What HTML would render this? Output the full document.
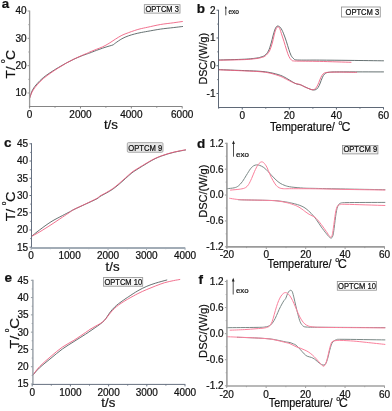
<!DOCTYPE html>
<html>
<head>
<meta charset="utf-8">
<title>Figure</title>
<style>
html,body{margin:0;padding:0;background:#ffffff;}
body{width:392px;height:411px;overflow:hidden;font-family:"Liberation Sans",sans-serif;}
svg{display:block;will-change:transform;}
svg text{font-family:"Liberation Sans",sans-serif;stroke:#111;stroke-width:0.22px;}
</style>
</head>
<body>
<svg width="392" height="411" viewBox="0 0 392 411">
<rect x="0" y="0" width="392" height="411" fill="#ffffff"/>
<path d="M29.60,98.20 C30.10,96.80 31.33,92.23 32.60,89.80 C33.87,87.37 35.42,85.63 37.20,83.60 C38.98,81.57 41.00,79.52 43.30,77.60 C45.60,75.68 48.45,73.80 51.00,72.10 C53.55,70.40 56.05,68.92 58.60,67.40 C61.15,65.88 63.75,64.37 66.30,63.00 C68.85,61.63 71.35,60.38 73.90,59.20 C76.45,58.02 79.30,56.82 81.60,55.90 C83.90,54.98 86.30,54.20 87.70,53.70 C89.10,53.20 88.55,53.45 90.00,52.90 C91.45,52.35 94.28,51.20 96.40,50.40 C98.53,49.60 100.63,48.82 102.75,48.10 C104.87,47.38 107.39,46.63 109.10,46.10 C110.81,45.57 111.93,45.42 113.00,44.90 C114.07,44.38 114.02,44.02 115.50,43.00 C116.98,41.98 119.77,39.93 121.90,38.75 C124.03,37.57 126.18,36.69 128.30,35.90 C130.42,35.11 132.65,34.52 134.60,34.00 C136.55,33.48 137.80,33.20 140.00,32.75 C142.20,32.30 144.38,31.91 147.80,31.30 C151.22,30.69 156.25,29.72 160.50,29.10 C164.75,28.48 169.62,28.03 173.30,27.60 C176.98,27.17 181.05,26.68 182.60,26.50" fill="none" stroke="#4a5759" stroke-width="0.85" stroke-opacity="1.0" stroke-linecap="round" stroke-linejoin="round"/>
<path d="M29.60,98.20 C30.10,97.00 31.33,93.23 32.60,91.00 C33.87,88.77 35.42,86.87 37.20,84.80 C38.98,82.73 41.00,80.60 43.30,78.60 C45.60,76.60 48.45,74.60 51.00,72.80 C53.55,71.00 56.05,69.42 58.60,67.80 C61.15,66.18 63.75,64.55 66.30,63.10 C68.85,61.65 71.35,60.35 73.90,59.10 C76.45,57.85 79.30,56.62 81.60,55.60 C83.90,54.58 86.30,53.62 87.70,53.00 C89.10,52.38 88.55,52.52 90.00,51.90 C91.45,51.28 94.28,50.15 96.40,49.30 C98.53,48.45 100.63,47.80 102.75,46.80 C104.87,45.80 106.97,44.58 109.10,43.30 C111.22,42.02 113.37,40.43 115.50,39.10 C117.63,37.77 119.77,36.36 121.90,35.30 C124.03,34.24 126.18,33.55 128.30,32.75 C130.42,31.95 132.65,31.14 134.60,30.50 C136.55,29.86 137.80,29.45 140.00,28.90 C142.20,28.35 144.38,27.93 147.80,27.20 C151.22,26.47 156.25,25.23 160.50,24.50 C164.75,23.77 169.65,23.30 173.30,22.80 C176.95,22.30 180.88,21.72 182.40,21.50" fill="none" stroke="#ee587b" stroke-width="0.85" stroke-opacity="1.0" stroke-linecap="round" stroke-linejoin="round"/>
<path d="M29.6,10.6 V107.00" fill="none" stroke="#9a9a9a" stroke-width="1.3"/>
<path d="M28.95,106.5 H182.4" fill="none" stroke="#858585" stroke-width="1.0"/>
<path d="M29.6,106.5 v2.0M80.47,106.5 v2.0M131.33,106.5 v2.0M182.2,106.5 v2.0M55.03,106.5 v1.2M105.9,106.5 v1.2M156.77,106.5 v1.2" fill="none" stroke="#858585" stroke-width="1"/>
<path d="M29.6,93.0 h-2.0M29.6,65.67 h-2.0M29.6,38.33 h-2.0M29.6,11.0 h-2.0M29.6,79.33 h-1.2M29.6,52.0 h-1.2M29.6,24.67 h-1.2" fill="none" stroke="#9a9a9a" stroke-width="1"/>
<text x="29.6" y="117.9" font-size="10" text-anchor="middle" font-weight="normal" fill="#111">0</text>
<text x="80.47" y="117.9" font-size="10" text-anchor="middle" font-weight="normal" fill="#111">2000</text>
<text x="131.33" y="117.9" font-size="10" text-anchor="middle" font-weight="normal" fill="#111">4000</text>
<text x="182.2" y="117.9" font-size="10" text-anchor="middle" font-weight="normal" fill="#111">6000</text>
<text x="26.5" y="96.4" font-size="10" text-anchor="end" font-weight="normal" fill="#111">10</text>
<text x="26.5" y="69.07" font-size="10" text-anchor="end" font-weight="normal" fill="#111">20</text>
<text x="26.5" y="41.73" font-size="10" text-anchor="end" font-weight="normal" fill="#111">30</text>
<text x="26.5" y="14.4" font-size="10" text-anchor="end" font-weight="normal" fill="#111">40</text>
<text x="1.8" y="7.9" font-size="13.3" text-anchor="start" font-weight="bold" fill="#111">a</text>
<g transform="translate(14.6,78.4) rotate(-90)"><text font-size="13" fill="#111"><tspan x="0" textLength="12.00" lengthAdjust="spacingAndGlyphs">T/</tspan><tspan x="15.30" dy="-9.5" font-size="6.6">o</tspan><tspan x="18.50" dy="9.5" textLength="10.05" lengthAdjust="spacingAndGlyphs">C</tspan></text></g>
<text x="103.9" y="128.8" font-size="13" fill="#111" textLength="14.0" lengthAdjust="spacingAndGlyphs">t/s</text>
<rect x="144.3" y="4.7" width="35.70" height="8.40" rx="0" fill="#fbfbfb" stroke="#8c8c8c" stroke-width="0.8"/>
<text x="145.4" y="11.8" font-size="8.2" fill="#111" textLength="33.5" lengthAdjust="spacingAndGlyphs">OPTCM 3</text>
<path d="M218.70,60.00 C223.02,59.87 238.23,59.53 244.60,59.20 C250.97,58.87 254.17,58.37 256.90,58.00 C259.63,57.63 259.72,57.42 261.00,57.00 C262.28,56.58 263.37,56.50 264.60,55.50 C265.83,54.50 267.30,53.08 268.40,51.00 C269.50,48.92 270.43,45.52 271.20,43.00 C271.97,40.48 272.42,38.05 273.00,35.90 C273.58,33.75 274.15,31.60 274.70,30.10 C275.25,28.60 275.77,27.58 276.30,26.90 C276.83,26.22 277.18,25.85 277.90,26.00 C278.62,26.15 279.68,26.60 280.60,27.80 C281.52,29.00 282.45,30.97 283.40,33.20 C284.35,35.43 285.40,38.52 286.30,41.20 C287.20,43.88 288.00,46.92 288.80,49.30 C289.60,51.68 290.28,53.93 291.10,55.50 C291.93,57.07 292.72,57.95 293.75,58.70 C294.78,59.45 293.75,59.77 297.30,60.00 C301.61,60.23 310.82,60.03 319.60,60.10 C328.38,60.17 339.35,60.28 350.00,60.40 C360.65,60.52 377.92,60.73 383.50,60.80" fill="none" stroke="#4a5759" stroke-width="0.85" stroke-opacity="1.0" stroke-linecap="round" stroke-linejoin="round"/>
<path d="M218.70,60.20 C223.02,60.10 238.23,59.88 244.60,59.60 C250.97,59.32 254.08,58.85 256.90,58.50 C259.72,58.15 260.12,57.92 261.50,57.50 C262.88,57.08 263.87,57.08 265.20,56.00 C266.53,54.92 268.32,53.17 269.50,51.00 C270.68,48.83 271.55,45.52 272.30,43.00 C273.05,40.48 273.45,38.05 274.00,35.90 C274.55,33.75 275.08,31.53 275.60,30.10 C276.12,28.67 276.67,27.85 277.10,27.30 C277.53,26.75 277.78,26.65 278.20,26.80 C278.62,26.95 279.09,27.13 279.60,28.20 C280.11,29.27 280.53,31.03 281.25,33.20 C281.97,35.37 283.01,38.38 283.90,41.20 C284.79,44.02 285.77,47.57 286.60,50.10 C287.43,52.63 288.10,54.75 288.90,56.40 C289.70,58.05 290.45,59.23 291.40,60.00 C292.35,60.77 291.40,60.77 294.60,61.00 C299.30,61.23 310.20,61.18 319.60,61.40 C329.00,61.62 345.77,62.15 351.00,62.30" fill="none" stroke="#ee587b" stroke-width="0.85" stroke-opacity="1.0" stroke-linecap="round" stroke-linejoin="round"/>
<path d="M218.70,69.60 C223.02,69.77 237.72,70.32 244.60,70.60 C251.48,70.88 255.73,70.97 260.00,71.30 C264.27,71.63 266.80,71.93 270.20,72.60 C273.60,73.27 277.68,74.35 280.40,75.30 C283.12,76.25 284.45,77.18 286.50,78.30 C288.55,79.42 291.00,81.05 292.70,82.00 C294.40,82.95 295.35,83.52 296.70,84.00 C298.05,84.48 299.43,84.42 300.80,84.90 C302.17,85.38 303.37,86.20 304.90,86.90 C306.43,87.60 308.57,88.58 310.00,89.10 C311.43,89.62 312.38,90.00 313.50,90.00 C314.62,90.00 315.75,89.85 316.70,89.10 C317.65,88.35 318.45,86.95 319.20,85.50 C319.95,84.05 320.52,82.05 321.20,80.40 C321.88,78.75 322.55,76.80 323.30,75.60 C324.05,74.40 324.68,73.77 325.70,73.20 C326.72,72.63 327.08,72.42 329.40,72.20 C331.72,71.98 330.58,71.95 339.60,71.90 C348.62,71.85 376.18,71.90 383.50,71.90" fill="none" stroke="#4a5759" stroke-width="0.85" stroke-opacity="1.0" stroke-linecap="round" stroke-linejoin="round"/>
<path d="M218.70,69.80 C223.02,69.98 237.72,70.58 244.60,70.90 C251.48,71.22 255.73,71.32 260.00,71.70 C264.27,72.08 266.80,72.43 270.20,73.20 C273.60,73.97 277.68,75.28 280.40,76.30 C283.12,77.32 284.45,78.28 286.50,79.30 C288.55,80.32 291.17,81.68 292.70,82.40 C294.23,83.12 294.52,83.27 295.70,83.60 C296.88,83.93 298.43,83.92 299.80,84.40 C301.17,84.88 302.37,85.78 303.90,86.50 C305.43,87.22 307.53,88.15 309.00,88.70 C310.47,89.25 311.62,89.83 312.70,89.80 C313.78,89.77 314.65,89.32 315.50,88.50 C316.35,87.68 317.08,86.32 317.80,84.90 C318.52,83.48 319.13,81.55 319.80,80.00 C320.47,78.45 321.05,76.75 321.80,75.60 C322.55,74.45 323.20,73.65 324.30,73.10 C325.40,72.55 325.85,72.47 328.40,72.30 C330.95,72.13 334.92,72.08 339.60,72.10 C344.28,72.12 353.68,72.35 356.50,72.40" fill="none" stroke="#ee587b" stroke-width="0.85" stroke-opacity="1.0" stroke-linecap="round" stroke-linejoin="round"/>
<path d="M218.5,9.8 V108.00" fill="none" stroke="#5f6977" stroke-width="1.0"/>
<path d="M218.00,107.5 H383.8" fill="none" stroke="#5f6977" stroke-width="1.0"/>
<path d="M242.25,107.5 v2.0M289.33,107.5 v2.0M336.42,107.5 v2.0M383.5,107.5 v2.0M218.71,107.5 v1.2M265.79,107.5 v1.2M312.88,107.5 v1.2M359.96,107.5 v1.2" fill="none" stroke="#5f6977" stroke-width="1"/>
<path d="M218.5,93.5 h-2.0M218.5,65.73 h-2.0M218.5,37.97 h-2.0M218.5,10.2 h-2.0M218.5,79.62 h-1.2M218.5,51.85 h-1.2M218.5,24.08 h-1.2" fill="none" stroke="#5f6977" stroke-width="1"/>
<text x="242.25" y="118.9" font-size="10" text-anchor="middle" font-weight="normal" fill="#111">0</text>
<text x="289.33" y="118.9" font-size="10" text-anchor="middle" font-weight="normal" fill="#111">20</text>
<text x="336.42" y="118.9" font-size="10" text-anchor="middle" font-weight="normal" fill="#111">40</text>
<text x="383.5" y="118.9" font-size="10" text-anchor="middle" font-weight="normal" fill="#111">60</text>
<text x="215.5" y="96.9" font-size="10" text-anchor="end" font-weight="normal" fill="#111">-1</text>
<text x="215.5" y="69.13" font-size="10" text-anchor="end" font-weight="normal" fill="#111">0</text>
<text x="215.5" y="41.37" font-size="10" text-anchor="end" font-weight="normal" fill="#111">1</text>
<text x="215.5" y="13.6" font-size="10" text-anchor="end" font-weight="normal" fill="#111">2</text>
<text x="196.8" y="13.0" font-size="13.5" text-anchor="start" font-weight="bold" fill="#111">b</text>
<text transform="translate(206.6,84.5) rotate(-90)" font-size="11.4" fill="#111" textLength="51.5" lengthAdjust="spacingAndGlyphs">DSC/(W/g)</text>
<text y="131.3" font-size="12.5" fill="#111"><tspan x="270.0" textLength="64.90" lengthAdjust="spacingAndGlyphs">Temperature/</tspan><tspan x="338.55" dy="-6.0" font-size="7">o</tspan><tspan x="341.49" dy="6.0" textLength="8.92" lengthAdjust="spacingAndGlyphs">C</tspan></text>
<rect x="341.5" y="7" width="38.75" height="10.00" rx="0" fill="#ffffff" stroke="#8c8c8c" stroke-width="0.8"/>
<text x="345.5" y="15" font-size="8.2" fill="#111" textLength="33.7" lengthAdjust="spacingAndGlyphs">OPTCM 3</text>
<path d="M225.8,15.3 V7.2" stroke="#222" stroke-width="0.8" fill="none"/>
<path d="M224.9,8.4 L225.8,5.8 L226.70000000000002,8.4 Z" fill="#222"/>
<text x="228.4" y="14.3" font-size="6.6" text-anchor="start" font-weight="normal" fill="#111">exo</text>
<path d="M31.50,236.40 C32.83,235.33 36.25,232.43 39.50,230.00 C42.75,227.57 47.18,224.20 51.00,221.80 C54.82,219.40 59.35,217.23 62.40,215.60 C65.45,213.97 67.38,213.02 69.30,212.00 C71.22,210.98 71.22,210.80 73.90,209.50 C76.58,208.20 81.57,205.98 85.40,204.20 C89.23,202.42 94.47,200.08 96.90,198.80 C99.33,197.52 98.42,197.47 100.00,196.50 C101.58,195.53 104.28,194.22 106.40,193.00 C108.53,191.78 110.63,190.67 112.75,189.20 C114.87,187.73 116.97,185.98 119.10,184.20 C121.22,182.42 123.37,180.38 125.50,178.50 C127.63,176.62 130.15,174.30 131.90,172.90 C133.65,171.50 134.25,171.23 136.00,170.10 C137.75,168.97 140.28,167.42 142.40,166.10 C144.53,164.78 146.63,163.43 148.75,162.20 C150.87,160.97 152.97,159.73 155.10,158.70 C157.22,157.67 159.37,156.80 161.50,156.00 C163.63,155.20 165.77,154.53 167.90,153.90 C170.03,153.27 172.18,152.70 174.30,152.20 C176.42,151.70 178.73,151.27 180.60,150.90 C182.47,150.53 184.68,150.15 185.50,150.00" fill="none" stroke="#4a5759" stroke-width="0.85" stroke-opacity="1.0" stroke-linecap="round" stroke-linejoin="round"/>
<path d="M31.50,236.40 C32.83,235.67 36.25,233.93 39.50,232.00 C42.75,230.07 47.18,227.27 51.00,224.80 C54.82,222.33 59.35,219.23 62.40,217.20 C65.45,215.17 67.38,213.88 69.30,212.60 C71.22,211.32 71.22,210.93 73.90,209.50 C76.58,208.07 81.57,205.85 85.40,204.00 C89.23,202.15 94.47,199.73 96.90,198.40 C99.33,197.07 98.42,196.98 100.00,196.00 C101.58,195.02 104.28,193.73 106.40,192.50 C108.53,191.27 110.63,190.10 112.75,188.60 C114.87,187.10 116.97,185.30 119.10,183.50 C121.22,181.70 123.37,179.68 125.50,177.80 C127.63,175.92 130.15,173.58 131.90,172.20 C133.65,170.82 134.25,170.60 136.00,169.50 C137.75,168.40 140.28,166.88 142.40,165.60 C144.53,164.32 146.63,163.00 148.75,161.80 C150.87,160.60 152.97,159.40 155.10,158.40 C157.22,157.40 159.37,156.58 161.50,155.80 C163.63,155.02 165.77,154.33 167.90,153.70 C170.03,153.07 172.18,152.50 174.30,152.00 C176.42,151.50 178.73,151.07 180.60,150.70 C182.47,150.33 184.68,149.95 185.50,149.80" fill="none" stroke="#ee587b" stroke-width="0.85" stroke-opacity="1.0" stroke-linecap="round" stroke-linejoin="round"/>
<path d="M31.5,143.2 V248.90" fill="none" stroke="#667080" stroke-width="1.0"/>
<path d="M31.00,248.0 H185.3" fill="none" stroke="#a2acb6" stroke-width="1.8"/>
<path d="M31.1,248.0 v2.0M69.58,248.0 v2.0M108.05,248.0 v2.0M146.53,248.0 v2.0M185.0,248.0 v2.0M50.34,248.0 v1.2M88.81,248.0 v1.2M127.29,248.0 v1.2M165.76,248.0 v1.2" fill="none" stroke="#a2acb6" stroke-width="1"/>
<path d="M31.5,247.2 h-2.0M31.5,229.97 h-2.0M31.5,212.73 h-2.0M31.5,195.5 h-2.0M31.5,178.27 h-2.0M31.5,161.03 h-2.0M31.5,143.8 h-2.0M31.5,238.58 h-1.2M31.5,221.35 h-1.2M31.5,204.12 h-1.2M31.5,186.88 h-1.2M31.5,169.65 h-1.2M31.5,152.42 h-1.2" fill="none" stroke="#667080" stroke-width="1"/>
<text x="31.1" y="259.1" font-size="10" text-anchor="middle" font-weight="normal" fill="#111">0</text>
<text x="69.58" y="259.1" font-size="10" text-anchor="middle" font-weight="normal" fill="#111">1000</text>
<text x="108.05" y="259.1" font-size="10" text-anchor="middle" font-weight="normal" fill="#111">2000</text>
<text x="146.53" y="259.1" font-size="10" text-anchor="middle" font-weight="normal" fill="#111">3000</text>
<text x="185.0" y="259.1" font-size="10" text-anchor="middle" font-weight="normal" fill="#111">4000</text>
<text x="28.0" y="250.6" font-size="10" text-anchor="end" font-weight="normal" fill="#111">15</text>
<text x="28.0" y="233.37" font-size="10" text-anchor="end" font-weight="normal" fill="#111">20</text>
<text x="28.0" y="216.13" font-size="10" text-anchor="end" font-weight="normal" fill="#111">25</text>
<text x="28.0" y="198.9" font-size="10" text-anchor="end" font-weight="normal" fill="#111">30</text>
<text x="28.0" y="181.67" font-size="10" text-anchor="end" font-weight="normal" fill="#111">35</text>
<text x="28.0" y="164.43" font-size="10" text-anchor="end" font-weight="normal" fill="#111">40</text>
<text x="28.0" y="147.2" font-size="10" text-anchor="end" font-weight="normal" fill="#111">45</text>
<text x="3.9" y="147.3" font-size="13.5" text-anchor="start" font-weight="bold" fill="#111">c</text>
<g transform="translate(15.2,221.3) rotate(-90)"><text font-size="13" fill="#111"><tspan x="0" textLength="12.56" lengthAdjust="spacingAndGlyphs">T/</tspan><tspan x="16.02" dy="-9.5" font-size="6.6">o</tspan><tspan x="19.37" dy="9.5" textLength="10.52" lengthAdjust="spacingAndGlyphs">C</tspan></text></g>
<text x="105.6" y="270.6" font-size="13" fill="#111" textLength="14.0" lengthAdjust="spacingAndGlyphs">t/s</text>
<rect x="127.3" y="142.6" width="35.70" height="9.70" rx="1.2" fill="#e7e7e7" stroke="#9a9a9a" stroke-width="0.8"/>
<text x="128.3" y="150.5" font-size="8.2" fill="#111" textLength="34.0" lengthAdjust="spacingAndGlyphs">OPTCM 9</text>
<path d="M227.10,188.70 C228.28,188.55 232.33,188.25 234.20,187.80 C236.07,187.35 236.93,187.03 238.30,186.00 C239.67,184.97 241.05,183.40 242.40,181.60 C243.75,179.80 245.05,177.33 246.40,175.20 C247.75,173.07 249.30,170.37 250.50,168.80 C251.70,167.23 252.57,166.45 253.60,165.80 C254.63,165.15 255.68,164.97 256.70,164.90 C257.72,164.83 258.52,164.97 259.70,165.40 C260.88,165.83 262.43,166.52 263.80,167.50 C265.17,168.48 266.53,169.92 267.90,171.30 C269.27,172.68 270.65,174.37 272.00,175.80 C273.35,177.23 274.65,178.67 276.00,179.90 C277.35,181.13 278.57,182.25 280.10,183.20 C281.63,184.15 283.33,184.97 285.20,185.60 C287.07,186.23 288.23,186.58 291.30,187.00 C294.37,187.42 299.57,187.87 303.60,188.10 C307.63,188.33 307.77,188.23 315.50,188.40 C323.23,188.57 338.43,188.88 350.00,189.10 C361.57,189.32 379.08,189.60 384.90,189.70" fill="none" stroke="#7b8987" stroke-width="1.0" stroke-opacity="1.0" stroke-linecap="round" stroke-linejoin="round"/>
<path d="M230.50,190.10 C232.13,189.93 237.82,189.50 240.30,189.10 C242.78,188.70 244.03,188.45 245.40,187.70 C246.77,186.95 247.47,186.13 248.50,184.60 C249.53,183.07 250.58,180.72 251.60,178.50 C252.62,176.28 253.58,173.52 254.60,171.30 C255.62,169.08 256.75,166.68 257.70,165.20 C258.65,163.72 259.62,162.95 260.30,162.40 C260.98,161.85 261.22,161.83 261.80,161.90 C262.38,161.97 262.95,161.92 263.80,162.80 C264.65,163.68 265.88,165.27 266.90,167.20 C267.92,169.13 268.88,172.18 269.90,174.40 C270.92,176.62 271.98,178.70 273.00,180.50 C274.02,182.30 274.98,184.00 276.00,185.20 C277.02,186.40 277.90,187.12 279.10,187.70 C280.30,188.28 281.17,188.53 283.20,188.70 C285.23,188.87 285.92,188.68 291.30,188.70 C296.68,188.72 305.72,188.67 315.50,188.80 C325.28,188.93 338.43,189.30 350.00,189.50 C361.57,189.70 379.08,189.92 384.90,190.00" fill="none" stroke="#fb809c" stroke-width="1.0" stroke-opacity="1.0" stroke-linecap="round" stroke-linejoin="round"/>
<path d="M238.30,199.70 C239.32,199.73 239.98,199.80 244.40,199.90 C248.82,200.00 259.37,200.15 264.80,200.30 C270.23,200.45 273.25,200.48 277.00,200.80 C280.75,201.12 284.92,201.83 287.30,202.20 C289.68,202.57 289.60,202.60 291.30,203.00 C293.00,203.40 295.72,204.05 297.50,204.60 C299.28,205.15 300.58,205.62 302.00,206.30 C303.42,206.98 304.48,207.53 306.00,208.70 C307.52,209.87 309.40,211.52 311.10,213.30 C312.80,215.08 314.50,217.12 316.20,219.40 C317.90,221.68 319.60,224.62 321.30,227.00 C323.00,229.38 325.03,232.00 326.40,233.70 C327.77,235.40 328.65,236.48 329.50,237.20 C330.35,237.92 330.92,238.33 331.50,238.00 C332.08,237.67 332.57,236.77 333.00,235.20 C333.43,233.63 333.75,231.07 334.10,228.60 C334.45,226.13 334.77,222.95 335.10,220.40 C335.43,217.85 335.77,215.33 336.10,213.30 C336.43,211.27 336.67,209.65 337.10,208.20 C337.53,206.75 338.10,205.45 338.70,204.60 C339.30,203.75 339.48,203.43 340.70,203.10 C341.92,202.77 340.70,202.72 346.00,202.60 C353.37,202.48 378.42,202.43 384.90,202.40" fill="none" stroke="#7b8987" stroke-width="1.0" stroke-opacity="1.0" stroke-linecap="round" stroke-linejoin="round"/>
<path d="M229.70,198.30 C230.78,198.47 233.75,199.03 236.20,199.30 C238.65,199.57 239.63,199.73 244.40,199.90 C249.17,200.07 259.37,200.13 264.80,200.30 C270.23,200.47 273.25,200.48 277.00,200.90 C280.75,201.32 284.23,202.05 287.30,202.80 C290.37,203.55 293.28,204.57 295.40,205.40 C297.52,206.23 298.65,206.98 300.00,207.80 C301.35,208.62 302.50,209.57 303.50,210.30 C304.50,211.03 305.07,211.53 306.00,212.20 C306.93,212.87 308.08,213.70 309.10,214.30 C310.12,214.90 310.92,215.12 312.10,215.80 C313.28,216.48 314.67,216.95 316.20,218.40 C317.73,219.85 319.60,222.30 321.30,224.50 C323.00,226.70 325.03,229.65 326.40,231.60 C327.77,233.55 328.73,235.27 329.50,236.20 C330.27,237.13 330.53,237.45 331.00,237.20 C331.47,236.95 331.92,236.13 332.30,234.70 C332.68,233.27 332.95,230.98 333.30,228.60 C333.65,226.22 334.05,222.95 334.40,220.40 C334.75,217.85 335.07,215.25 335.40,213.30 C335.73,211.35 336.00,209.98 336.40,208.70 C336.80,207.42 337.17,206.28 337.80,205.60 C338.43,204.92 338.83,204.82 340.20,204.60 C341.57,204.38 340.20,204.15 346.00,204.30 C353.45,204.45 378.42,205.30 384.90,205.50" fill="none" stroke="#fb809c" stroke-width="1.0" stroke-opacity="1.0" stroke-linecap="round" stroke-linejoin="round"/>
<path d="M226.9,142.8 V247.70" fill="none" stroke="#9a9a9a" stroke-width="1.6"/>
<path d="M226.10,246.9 H384.8" fill="none" stroke="#9a9a9a" stroke-width="1.6"/>
<path d="M226.9,246.9 v2.0M266.3,246.9 v2.0M305.7,246.9 v2.0M345.1,246.9 v2.0M384.5,246.9 v2.0M246.6,246.9 v1.2M286.0,246.9 v1.2M325.4,246.9 v1.2M364.8,246.9 v1.2" fill="none" stroke="#9a9a9a" stroke-width="1"/>
<path d="M226.9,246.8 h-2.0M226.9,220.93 h-2.0M226.9,195.05 h-2.0M226.9,169.18 h-2.0M226.9,143.3 h-2.0M226.9,233.86 h-1.2M226.9,207.99 h-1.2M226.9,182.11 h-1.2M226.9,156.24 h-1.2" fill="none" stroke="#9a9a9a" stroke-width="1"/>
<text x="226.9" y="258.3" font-size="10" text-anchor="middle" font-weight="normal" fill="#111">-20</text>
<text x="266.3" y="258.3" font-size="10" text-anchor="middle" font-weight="normal" fill="#111">0</text>
<text x="305.7" y="258.3" font-size="10" text-anchor="middle" font-weight="normal" fill="#111">20</text>
<text x="345.1" y="258.3" font-size="10" text-anchor="middle" font-weight="normal" fill="#111">40</text>
<text x="384.5" y="258.3" font-size="10" text-anchor="middle" font-weight="normal" fill="#111">60</text>
<text x="223.6" y="250.2" font-size="10" text-anchor="end" font-weight="normal" fill="#111">-1.2</text>
<text x="223.6" y="224.33" font-size="10" text-anchor="end" font-weight="normal" fill="#111">-0.6</text>
<text x="223.6" y="198.45" font-size="10" text-anchor="end" font-weight="normal" fill="#111">0.0</text>
<text x="223.6" y="172.58" font-size="10" text-anchor="end" font-weight="normal" fill="#111">0.6</text>
<text x="223.6" y="146.7" font-size="10" text-anchor="end" font-weight="normal" fill="#111">1.2</text>
<text x="196.9" y="147.7" font-size="13.5" text-anchor="start" font-weight="bold" fill="#111">d</text>
<text transform="translate(207.1,217.8) rotate(-90)" font-size="11.5" fill="#111" textLength="53.2" lengthAdjust="spacingAndGlyphs">DSC/(W/g)</text>
<text y="268.3" font-size="12.5" fill="#111"><tspan x="267.6" textLength="64.00" lengthAdjust="spacingAndGlyphs">Temperature/</tspan><tspan x="335.20" dy="-6.0" font-size="7">o</tspan><tspan x="338.10" dy="6.0" textLength="8.80" lengthAdjust="spacingAndGlyphs">C</tspan></text>
<rect x="342.5" y="145.4" width="35.40" height="8.50" rx="0" fill="#f0f0f0" stroke="#8c8c8c" stroke-width="0.8"/>
<text x="343.4" y="152.3" font-size="8.2" fill="#111" textLength="33.8" lengthAdjust="spacingAndGlyphs">OPTCM 9</text>
<path d="M233.5,156.7 V141.9" stroke="#222" stroke-width="0.8" fill="none"/>
<path d="M232.1,144.1 L233.5,140.5 L234.9,144.1 Z" fill="#222"/>
<text x="236.1" y="156.7" font-size="8" text-anchor="start" font-weight="normal" fill="#111">exo</text>
<path d="M32.90,375.10 C34.00,373.88 36.48,370.62 39.50,367.80 C42.52,364.98 47.18,361.33 51.00,358.20 C54.82,355.07 58.58,351.77 62.40,349.00 C66.22,346.23 70.07,344.05 73.90,341.60 C77.73,339.15 82.72,336.03 85.40,334.30 C88.08,332.57 88.38,332.30 90.00,331.20 C91.62,330.10 93.40,328.88 95.10,327.70 C96.80,326.52 98.67,325.30 100.20,324.10 C101.73,322.90 103.12,321.78 104.30,320.50 C105.48,319.22 106.28,317.85 107.30,316.40 C108.32,314.95 109.20,313.33 110.40,311.80 C111.60,310.27 113.13,308.55 114.50,307.20 C115.87,305.85 117.07,304.90 118.60,303.70 C120.13,302.50 121.98,301.20 123.70,300.00 C125.42,298.80 126.53,298.04 128.90,296.50 C131.27,294.96 134.92,292.45 137.90,290.75 C140.88,289.05 143.83,287.57 146.80,286.30 C149.77,285.03 152.37,284.15 155.70,283.10 C159.03,282.05 164.95,280.52 166.80,280.00" fill="none" stroke="#4a5759" stroke-width="0.85" stroke-opacity="1.0" stroke-linecap="round" stroke-linejoin="round"/>
<path d="M32.90,375.10 C34.00,373.70 36.48,369.83 39.50,366.70 C42.52,363.57 47.18,359.57 51.00,356.30 C54.82,353.03 58.58,349.77 62.40,347.10 C66.22,344.43 70.07,342.72 73.90,340.30 C77.73,337.88 82.72,334.42 85.40,332.60 C88.08,330.78 88.38,330.43 90.00,329.40 C91.62,328.37 93.40,327.37 95.10,326.40 C96.80,325.43 98.67,324.58 100.20,323.60 C101.73,322.62 103.12,321.62 104.30,320.50 C105.48,319.38 106.28,318.17 107.30,316.90 C108.32,315.63 109.20,314.30 110.40,312.90 C111.60,311.50 113.13,309.82 114.50,308.50 C115.87,307.18 117.07,306.15 118.60,305.00 C120.13,303.85 121.98,302.68 123.70,301.60 C125.42,300.52 126.53,299.83 128.90,298.50 C131.27,297.17 134.92,295.10 137.90,293.60 C140.88,292.10 143.83,290.78 146.80,289.50 C149.77,288.22 152.73,287.03 155.70,285.90 C158.67,284.77 161.62,283.58 164.60,282.70 C167.58,281.82 171.07,281.13 173.60,280.60 C176.13,280.07 178.77,279.68 179.80,279.50" fill="none" stroke="#ee587b" stroke-width="0.85" stroke-opacity="1.0" stroke-linecap="round" stroke-linejoin="round"/>
<path d="M32.9,279.8 V384.90" fill="none" stroke="#959da4" stroke-width="1.4"/>
<path d="M32.20,384.4 H185.3" fill="none" stroke="#667080" stroke-width="1.0"/>
<path d="M32.2,384.4 v2.0M70.4,384.4 v2.0M108.6,384.4 v2.0M146.8,384.4 v2.0M185.0,384.4 v2.0M51.3,384.4 v1.2M89.5,384.4 v1.2M127.7,384.4 v1.2M165.9,384.4 v1.2" fill="none" stroke="#667080" stroke-width="1"/>
<path d="M32.9,384.0 h-2.0M32.9,366.72 h-2.0M32.9,349.43 h-2.0M32.9,332.15 h-2.0M32.9,314.87 h-2.0M32.9,297.58 h-2.0M32.9,280.3 h-2.0M32.9,375.36 h-1.2M32.9,358.07 h-1.2M32.9,340.79 h-1.2M32.9,323.51 h-1.2M32.9,306.23 h-1.2M32.9,288.94 h-1.2" fill="none" stroke="#959da4" stroke-width="1"/>
<text x="32.2" y="395.6" font-size="10" text-anchor="middle" font-weight="normal" fill="#111">0</text>
<text x="70.4" y="395.6" font-size="10" text-anchor="middle" font-weight="normal" fill="#111">1000</text>
<text x="108.6" y="395.6" font-size="10" text-anchor="middle" font-weight="normal" fill="#111">2000</text>
<text x="146.8" y="395.6" font-size="10" text-anchor="middle" font-weight="normal" fill="#111">3000</text>
<text x="185.0" y="395.6" font-size="10" text-anchor="middle" font-weight="normal" fill="#111">4000</text>
<text x="28.6" y="387.4" font-size="10" text-anchor="end" font-weight="normal" fill="#111">15</text>
<text x="28.6" y="370.12" font-size="10" text-anchor="end" font-weight="normal" fill="#111">20</text>
<text x="28.6" y="352.83" font-size="10" text-anchor="end" font-weight="normal" fill="#111">25</text>
<text x="28.6" y="335.55" font-size="10" text-anchor="end" font-weight="normal" fill="#111">30</text>
<text x="28.6" y="318.27" font-size="10" text-anchor="end" font-weight="normal" fill="#111">35</text>
<text x="28.6" y="300.98" font-size="10" text-anchor="end" font-weight="normal" fill="#111">40</text>
<text x="28.6" y="283.7" font-size="10" text-anchor="end" font-weight="normal" fill="#111">45</text>
<text x="4.5" y="281.7" font-size="13.5" text-anchor="start" font-weight="bold" fill="#111">e</text>
<g transform="translate(18.5,348.5) rotate(-90)"><text font-size="13" fill="#111"><tspan x="0" textLength="12.78" lengthAdjust="spacingAndGlyphs">T/</tspan><tspan x="16.29" dy="-9.5" font-size="6.6">o</tspan><tspan x="19.70" dy="9.5" textLength="10.70" lengthAdjust="spacingAndGlyphs">C</tspan></text></g>
<text x="101.3" y="406.6" font-size="13" fill="#111" textLength="14.0" lengthAdjust="spacingAndGlyphs">t/s</text>
<rect x="103.5" y="277.6" width="39.20" height="8.60" rx="0" fill="#f8f8f8" stroke="#8c8c8c" stroke-width="0.8"/>
<text x="104.4" y="284.8" font-size="8.2" fill="#111" textLength="37.7" lengthAdjust="spacingAndGlyphs">OPTCM 10</text>
<path d="M226.70,327.70 C231.58,327.65 249.63,327.52 256.00,327.40 C262.37,327.28 262.52,327.36 264.90,327.00 C267.28,326.64 268.80,326.26 270.30,325.23 C271.80,324.20 272.87,322.40 273.90,320.79 C274.93,319.18 275.62,317.47 276.50,315.56 C277.38,313.65 278.30,311.27 279.20,309.35 C280.10,307.44 281.10,305.53 281.90,304.07 C282.70,302.61 283.35,301.52 284.00,300.56 C284.65,299.60 285.20,299.47 285.80,298.29 C286.40,297.11 287.00,294.69 287.60,293.46 C288.20,292.23 288.87,291.42 289.40,290.89 C289.93,290.36 290.32,290.16 290.80,290.30 C291.28,290.44 291.77,290.46 292.30,291.73 C292.83,293.00 293.42,295.56 294.00,297.90 C294.58,300.24 295.13,303.00 295.80,305.79 C296.47,308.59 297.28,312.02 298.00,314.67 C298.72,317.32 299.37,319.92 300.10,321.68 C300.83,323.44 301.42,324.34 302.40,325.23 C303.38,326.12 302.40,326.66 306.00,327.01 C309.87,327.36 312.45,327.20 325.60,327.30 C338.75,327.40 375.02,327.55 384.90,327.60" fill="none" stroke="#7b8987" stroke-width="1.0" stroke-opacity="1.0" stroke-linecap="round" stroke-linejoin="round"/>
<path d="M230.10,330.20 C232.48,330.10 240.08,329.84 244.40,329.60 C248.72,329.36 252.58,329.03 256.00,328.75 C259.42,328.47 262.67,328.34 264.90,327.90 C267.13,327.46 268.20,327.16 269.40,326.12 C270.60,325.08 271.30,323.59 272.10,321.68 C272.90,319.77 273.47,317.17 274.20,314.67 C274.93,312.17 275.75,309.03 276.50,306.68 C277.25,304.33 277.95,302.32 278.70,300.56 C279.45,298.80 280.23,297.30 281.00,296.12 C281.77,294.94 282.55,294.05 283.30,293.46 C284.05,292.87 284.78,292.57 285.50,292.57 C286.22,292.57 286.87,292.92 287.60,293.46 C288.33,294.00 289.07,294.65 289.90,295.83 C290.73,297.01 291.70,298.75 292.60,300.56 C293.50,302.37 294.35,304.48 295.30,306.68 C296.25,308.88 297.27,311.59 298.30,313.79 C299.33,315.99 300.42,318.21 301.50,319.90 C302.58,321.59 303.60,322.91 304.80,323.95 C306.00,324.99 307.17,325.61 308.70,326.12 C310.23,326.63 311.18,326.80 314.00,327.01 C316.82,327.22 314.00,327.25 325.60,327.40 C337.42,327.55 375.02,327.82 384.90,327.90" fill="none" stroke="#fb809c" stroke-width="1.0" stroke-opacity="1.0" stroke-linecap="round" stroke-linejoin="round"/>
<path d="M237.30,337.30 C240.18,337.40 249.33,337.65 254.60,337.90 C259.87,338.15 265.15,338.43 268.90,338.80 C272.65,339.17 274.38,339.60 277.10,340.10 C279.82,340.60 283.05,341.38 285.20,341.80 C287.35,342.22 288.63,342.25 290.00,342.60 C291.37,342.95 292.40,343.47 293.40,343.90 C294.40,344.33 294.88,344.30 296.00,345.20 C297.12,346.10 298.73,347.85 300.10,349.30 C301.47,350.75 303.02,352.75 304.20,353.90 C305.38,355.05 306.02,355.62 307.20,356.20 C308.38,356.78 310.10,356.93 311.30,357.40 C312.50,357.87 313.38,358.32 314.40,359.00 C315.42,359.68 316.38,360.70 317.40,361.50 C318.42,362.30 319.57,363.20 320.50,363.80 C321.43,364.40 322.23,365.00 323.00,365.10 C323.77,365.20 324.50,364.97 325.10,364.40 C325.70,363.83 326.10,362.95 326.60,361.70 C327.10,360.45 327.58,358.80 328.10,356.90 C328.62,355.00 329.18,352.25 329.70,350.30 C330.22,348.35 330.70,346.57 331.20,345.20 C331.70,343.83 331.90,343.00 332.70,342.10 C333.50,341.20 334.62,340.27 336.00,339.80 C337.38,339.33 336.00,339.28 341.00,339.30 C349.15,339.32 377.58,339.80 384.90,339.90" fill="none" stroke="#7b8987" stroke-width="1.0" stroke-opacity="1.0" stroke-linecap="round" stroke-linejoin="round"/>
<path d="M227.10,336.70 C228.62,336.77 231.62,336.90 236.20,337.10 C240.78,337.30 249.15,337.60 254.60,337.90 C260.05,338.20 265.15,338.48 268.90,338.90 C272.65,339.32 274.38,339.82 277.10,340.40 C279.82,340.98 283.05,341.85 285.20,342.40 C287.35,342.95 288.20,342.98 290.00,343.70 C291.80,344.42 294.32,345.97 296.00,346.70 C297.68,347.43 298.73,347.58 300.10,348.10 C301.47,348.62 302.85,349.18 304.20,349.80 C305.55,350.42 306.85,350.95 308.20,351.80 C309.55,352.65 310.93,353.70 312.30,354.90 C313.67,356.10 315.03,357.55 316.40,359.00 C317.77,360.45 319.40,362.42 320.50,363.60 C321.60,364.78 322.32,365.77 323.00,366.10 C323.68,366.43 324.08,366.18 324.60,365.60 C325.12,365.02 325.60,363.97 326.10,362.60 C326.60,361.23 327.08,359.45 327.60,357.40 C328.12,355.35 328.68,352.42 329.20,350.30 C329.72,348.18 330.20,346.15 330.70,344.70 C331.20,343.25 331.32,342.28 332.20,341.60 C333.08,340.92 334.53,340.80 336.00,340.60 C337.47,340.40 338.03,340.32 341.00,340.40 C343.97,340.48 349.55,340.77 353.80,341.10 C358.05,341.43 361.32,341.85 366.50,342.40 C371.68,342.95 381.83,344.07 384.90,344.40" fill="none" stroke="#fb809c" stroke-width="1.0" stroke-opacity="1.0" stroke-linecap="round" stroke-linejoin="round"/>
<path d="M226.9,279.8 V386.80" fill="none" stroke="#a0a0a0" stroke-width="1.6"/>
<path d="M226.10,386.0 H384.8" fill="none" stroke="#a0a0a0" stroke-width="1.6"/>
<path d="M226.7,386.0 v2.0M266.15,386.0 v2.0M305.6,386.0 v2.0M345.05,386.0 v2.0M384.5,386.0 v2.0M246.42,386.0 v1.2M285.88,386.0 v1.2M325.32,386.0 v1.2M364.77,386.0 v1.2" fill="none" stroke="#a0a0a0" stroke-width="1"/>
<path d="M226.9,385.8 h-2.0M226.9,359.73 h-2.0M226.9,333.65 h-2.0M226.9,307.57 h-2.0M226.9,281.5 h-2.0M226.9,372.76 h-1.2M226.9,346.69 h-1.2M226.9,320.61 h-1.2M226.9,294.54 h-1.2" fill="none" stroke="#a0a0a0" stroke-width="1"/>
<text x="226.7" y="397.9" font-size="10" text-anchor="middle" font-weight="normal" fill="#111">-20</text>
<text x="266.15" y="397.9" font-size="10" text-anchor="middle" font-weight="normal" fill="#111">0</text>
<text x="305.6" y="397.9" font-size="10" text-anchor="middle" font-weight="normal" fill="#111">20</text>
<text x="345.05" y="397.9" font-size="10" text-anchor="middle" font-weight="normal" fill="#111">40</text>
<text x="384.5" y="397.9" font-size="10" text-anchor="middle" font-weight="normal" fill="#111">60</text>
<text x="223.6" y="389.2" font-size="10" text-anchor="end" font-weight="normal" fill="#111">-1.2</text>
<text x="223.6" y="363.13" font-size="10" text-anchor="end" font-weight="normal" fill="#111">-0.6</text>
<text x="223.6" y="337.05" font-size="10" text-anchor="end" font-weight="normal" fill="#111">0.0</text>
<text x="223.6" y="310.97" font-size="10" text-anchor="end" font-weight="normal" fill="#111">0.6</text>
<text x="223.6" y="284.9" font-size="10" text-anchor="end" font-weight="normal" fill="#111">1.2</text>
<text x="198.6" y="283.7" font-size="13.5" text-anchor="start" font-weight="bold" fill="#111">f</text>
<text transform="translate(206.6,357.9) rotate(-90)" font-size="11.5" fill="#111" textLength="53.8" lengthAdjust="spacingAndGlyphs">DSC/(W/g)</text>
<text y="407.2" font-size="12.5" fill="#111"><tspan x="268.8" textLength="63.84" lengthAdjust="spacingAndGlyphs">Temperature/</tspan><tspan x="336.23" dy="-6.0" font-size="7">o</tspan><tspan x="339.12" dy="6.0" textLength="8.78" lengthAdjust="spacingAndGlyphs">C</tspan></text>
<rect x="337.3" y="281.4" width="39.20" height="8.80" rx="0" fill="#ffffff" stroke="#8c8c8c" stroke-width="0.8"/>
<text x="338.0" y="288.5" font-size="8.2" fill="#111" textLength="37.9" lengthAdjust="spacingAndGlyphs">OPTCM 10</text>
<path d="M233.2,294.5 V279.2" stroke="#222" stroke-width="0.8" fill="none"/>
<path d="M231.79999999999998,281.4 L233.2,277.8 L234.6,281.4 Z" fill="#222"/>
<text x="235.9" y="293.1" font-size="7.8" text-anchor="start" font-weight="normal" fill="#111">exo</text>
</svg>
</body>
</html>
